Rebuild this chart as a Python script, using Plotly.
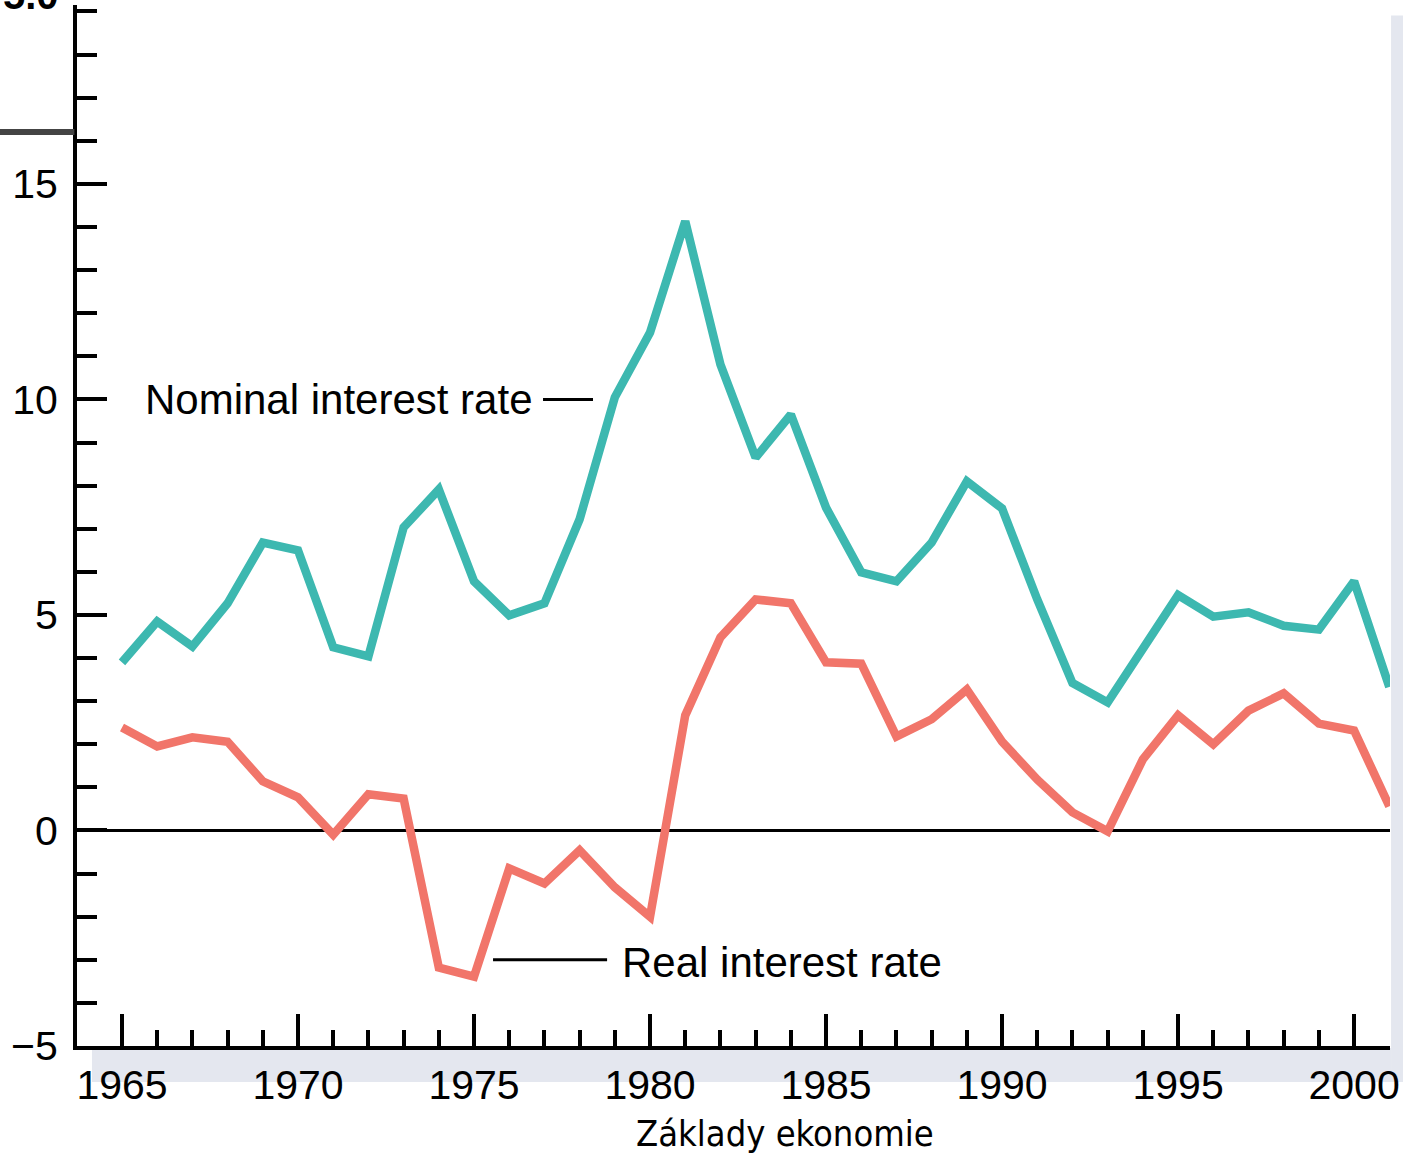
import plotly.graph_objects as go

years = list(range(1965, 2002))
nominal = [3.9, 4.85, 4.27, 5.27, 6.68, 6.5, 4.25, 4.04, 7.03, 7.91, 5.78, 4.99, 5.27, 7.22,
           10.05, 11.55, 14.13, 10.81, 8.65, 9.65, 7.49, 5.99, 5.78, 6.68, 8.1, 7.47, 5.36,
           3.42, 2.97, 4.25, 5.46, 4.96, 5.06, 4.75, 4.66, 5.78, 3.33]
real = [2.39, 1.95, 2.16, 2.06, 1.14, 0.77, -0.1, 0.84, 0.74, -3.18, -3.39, -0.88, -1.23,
        -0.46, -1.32, -2.0, 2.67, 4.48, 5.36, 5.27, 3.9, 3.87, 2.18, 2.58, 3.27, 2.06, 1.18,
        0.42, -0.02, 1.65, 2.67, 2.0, 2.78, 3.18, 2.48, 2.32, 0.56]

x_ticks = [1965, 1970, 1975, 1980, 1985, 1990, 1995, 2000]
x_minor = [y for y in range(1966, 2002) if y % 5 != 0]
y_ticks = [-5, 0, 5, 10, 15]

TEAL = "#3db8b0"
CORAL = "#f1756a"
FONT = "Liberation Sans, Arial, sans-serif"

fig = go.Figure()
fig.add_trace(go.Scatter(x=years, y=nominal, mode="lines",
                         line=dict(color=TEAL, width=8.5), showlegend=False))
fig.add_trace(go.Scatter(x=years, y=real, mode="lines",
                         line=dict(color=CORAL, width=8.5), showlegend=False))

fig.update_layout(
    width=1403, height=1153,
    margin=dict(l=77, r=13, t=5, b=107),
    paper_bgcolor="white", plot_bgcolor="white",
    font=dict(family=FONT, size=41, color="black"),
    xaxis=dict(range=[1963.722, 2001.02], tickvals=x_ticks, ticktext=[str(v) for v in x_ticks],
               ticks="inside", ticklen=32, tickwidth=4, tickcolor="black",
               minor=dict(tickvals=x_minor, ticks="inside", ticklen=16, tickwidth=4, tickcolor="black"),
               showline=True, linecolor="black", linewidth=4, showgrid=False, zeroline=False,
               automargin=False,
               ticklabelstandoff=0, tickfont=dict(size=41, family=FONT)),
    yaxis=dict(range=[-5, 19.15], tickvals=y_ticks,
               ticks="inside", ticklen=30, tickwidth=4, tickcolor="black",
               minor=dict(dtick=1, tick0=0, ticks="inside", ticklen=20, tickwidth=4, tickcolor="black"),
               showline=True, linecolor="black", linewidth=4, showgrid=False,
               zeroline=True, zerolinecolor="black", zerolinewidth=3,
               automargin=False,
               ticklabelstandoff=7, tickfont=dict(size=41, family=FONT)),
)

# light grey shadow strips
fig.add_shape(type="rect", xref="paper", yref="paper", x0=1.0008, x1=1.0099, y0=-0.0346, y1=0.990,
              fillcolor="#e4e7ef", line_width=0, layer="below")
fig.add_shape(type="rect", xref="paper", yref="paper", x0=0.0114, x1=1.0008, y0=-0.0346, y1=-0.002,
              fillcolor="#e4e7ef", line_width=0, layer="below")
# dark grey bar at top-left
fig.add_shape(type="line", xref="paper", yref="paper", x0=-0.06, x1=-0.002, y0=0.878, y1=0.878,
              line=dict(color="#444444", width=6))

# label leader lines
fig.add_shape(type="line", xref="x", yref="y", x0=1976.96, x1=1978.38, y0=10, y1=10,
              line=dict(color="black", width=3))
fig.add_shape(type="line", xref="x", yref="y", x0=1975.54, x1=1978.78, y0=-3.0, y1=-3.0,
              line=dict(color="black", width=3))

fig.add_annotation(x=1965.6, y=10, xref="x", yref="y", text="Nominal interest rate",
                   showarrow=False, xanchor="left", yanchor="middle",
                   font=dict(size=42, family=FONT, color="black"))
fig.add_annotation(x=1979.15, y=-3.06, xref="x", yref="y", text="Real interest rate",
                   showarrow=False, xanchor="left", yanchor="middle",
                   font=dict(size=42, family=FONT, color="black"))
fig.add_annotation(x=0.539, y=-0.0836, xref="paper", yref="paper", text="Základy ekonomie",
                   showarrow=False, xanchor="center", yanchor="middle",
                   font=dict(size=36, family="DejaVu Sans Condensed, DejaVu Sans, sans-serif", color="black"))
# clipped heading remnant at the very top-left (cut off in the reference too)
fig.add_annotation(x=-0.012, y=1.0, xref="paper", yref="paper", text="<b>5.0</b>",
                   showarrow=False, xanchor="right", yanchor="bottom", yshift=-14,
                   font=dict(size=40, family=FONT, color="black"))

fig.write_html("out.html", config={"displayModeBar": False},
               post_script="document.body.style.margin='0';document.body.style.overflow='hidden';")
